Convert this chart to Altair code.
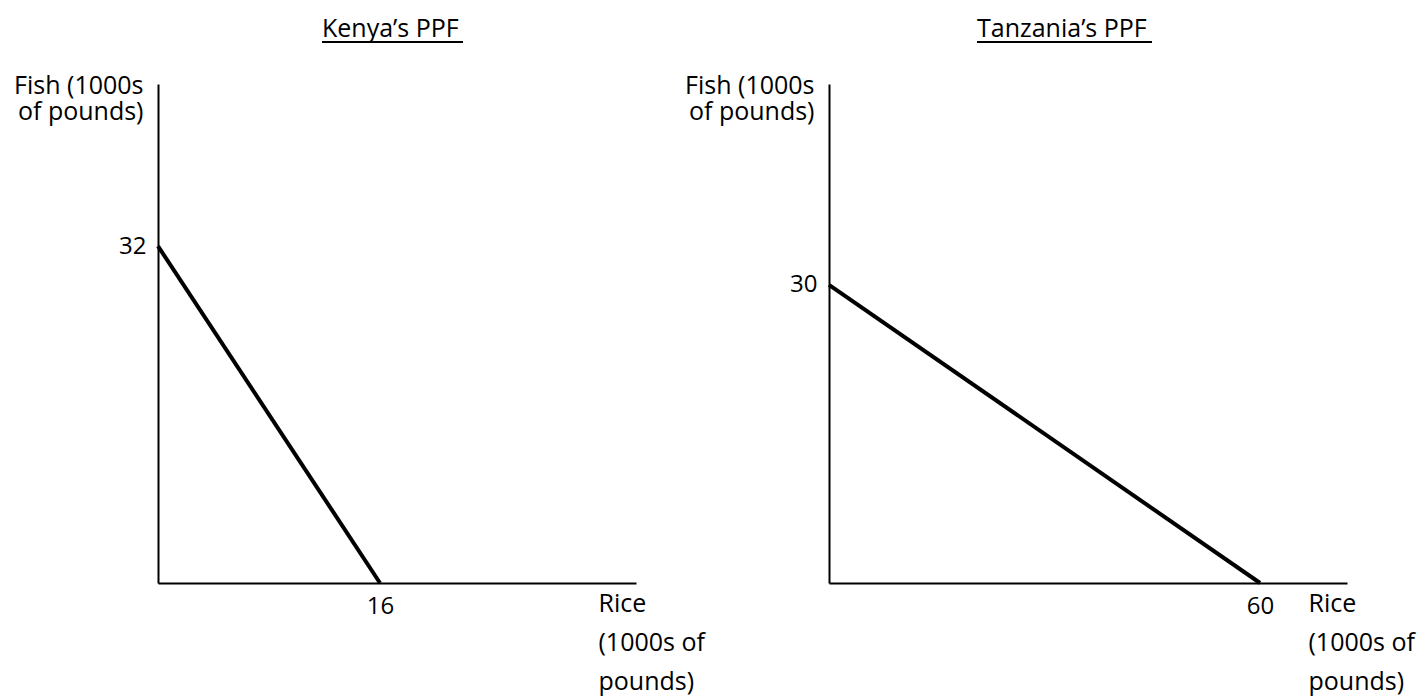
import altair as alt
import pandas as pd

# Data
kenya_rice = [0, 16]
kenya_fish = [32, 0]
tanz_rice = [0, 60]
tanz_fish = [30, 0]
kenya_x_ticks = [16]
kenya_y_ticks = [32]
tanz_x_ticks = [60]
tanz_y_ticks = [30]
titles = ["Kenya\u2019s PPF", "Tanzania\u2019s PPF"]
y_title = ["Fish (1000s", "of pounds)"]
x_title = ["Rice", "(1000s of", "pounds)"]

FONT = "Open Sans"
FS = 25
W, H = 1423, 696

kenya_df = pd.DataFrame({"rice": kenya_rice, "fish": kenya_fish})
tanz_df = pd.DataFrame({"rice": tanz_rice, "fish": tanz_fish})


def x_axis(values, tx):
    return alt.Axis(
        orient="bottom", offset=-(H - 583), values=values, ticks=False, tickSize=0,
        grid=False, domainColor="black", domainWidth=2, labelFont=FONT,
        labelFontSize=24, labelColor="black", labelPadding=11,
        title=x_title, titleFont=FONT, titleFontSize=FS, titleFontWeight="normal",
        titleColor="black", titleX=tx, titleY=28, titleAlign="left",
        titleBaseline="alphabetic", titleLineHeight=39, titleAngle=0,
    )


def y_axis(values, pos):
    return alt.Axis(
        orient="left", offset=-pos, values=values, ticks=False, tickSize=0,
        grid=False, domainColor="black", domainWidth=2, labelFont=FONT,
        labelFontSize=24, labelColor="black", labelPadding=12,
        title=y_title, titleFont=FONT, titleFontSize=FS, titleFontWeight="normal",
        titleColor="black", titleX=-15, titleY=93, titleAlign="right",
        titleBaseline="alphabetic", titleLineHeight=26, titleAngle=0,
    )


kenya = alt.Chart(kenya_df).mark_line(color="black", strokeWidth=4).encode(
    x=alt.X("rice:Q", scale=alt.Scale(domain=[0, 34.45], range=[158, 636], nice=False, zero=True),
            axis=x_axis(kenya_x_ticks, 598)),
    y=alt.Y("fish:Q", scale=alt.Scale(domain=[0, 47.4], range=[583, 84], nice=False),
            axis=y_axis(kenya_y_ticks, 158)),
)

tanz = alt.Chart(tanz_df).mark_line(color="black", strokeWidth=4).encode(
    x=alt.X("rice:Q", scale=alt.Scale(domain=[0, 72.1], range=[829, 1347], nice=False),
            axis=x_axis(tanz_x_ticks, 1308)),
    y=alt.Y("fish:Q", scale=alt.Scale(domain=[0, 50.2], range=[583, 84], nice=False),
            axis=y_axis(tanz_y_ticks, 829)),
)

base_txt = alt.Chart(pd.DataFrame({"t": [0]}))
title_k = base_txt.mark_text(font=FONT, fontSize=FS, align="left", baseline="alphabetic",
                             color="black", text=titles[0]).encode(
    x=alt.value(322), y=alt.value(37))
title_t = base_txt.mark_text(font=FONT, fontSize=FS, align="left", baseline="alphabetic",
                             color="black", text=titles[1]).encode(
    x=alt.value(977), y=alt.value(37))
ul_k = base_txt.mark_rule(color="black", strokeWidth=2).encode(
    x=alt.value(322), x2=alt.value(463), y=alt.value(42))
ul_t = base_txt.mark_rule(color="black", strokeWidth=2).encode(
    x=alt.value(977), x2=alt.value(1152), y=alt.value(42))

chart = alt.layer(kenya, tanz, title_k, title_t, ul_k, ul_t).resolve_scale(
    x="independent", y="independent"
).resolve_axis(x="independent", y="independent").properties(
    width=W, height=H, autosize=alt.AutoSizeParams(type="none"), padding=0,
    background="white",
).configure_view(stroke=None)

chart.save("out.html", embed_options={"renderer": "svg", "actions": False})
